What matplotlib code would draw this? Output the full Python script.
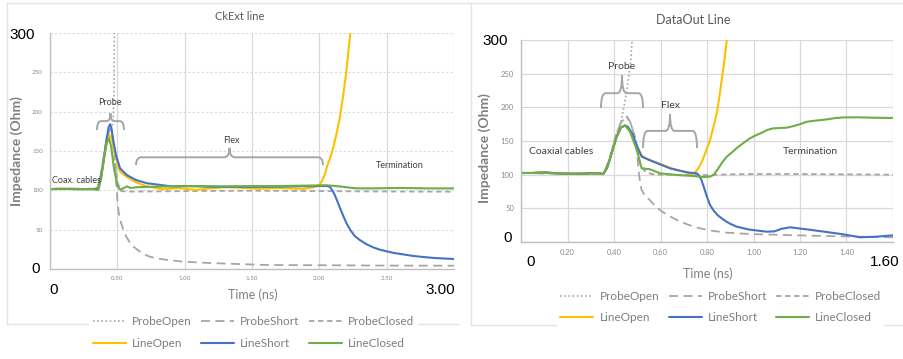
import matplotlib
matplotlib.use("Agg")
import matplotlib.pyplot as plt
from matplotlib.path import Path
from matplotlib.patches import PathPatch
from matplotlib.lines import Line2D

plt.rcParams['font.family'] = ['Lato', 'DejaVu Sans']

# ---------------- CkExt line (left chart) ----------------
ck_probe_open_t = [0, 0.2, 0.35, 0.38, 0.41, 0.44, 0.46, 0.47, 0.475, 0.478, 0.482]
ck_probe_open_z = [101.5, 101.5, 102, 122, 155, 175, 180, 190, 230, 300, 360]

ck_probe_short_t = [0, 0.2, 0.35, 0.38, 0.41, 0.44, 0.46, 0.48, 0.495, 0.503, 0.51, 0.525,
                    0.545, 0.565, 0.59, 0.62, 0.66, 0.70, 0.74, 0.80, 0.88, 0.99, 1.2,
                    1.4, 1.61, 2.0, 2.5, 3.0]
ck_probe_short_z = [101.5, 101.5, 102, 122, 155, 178, 176, 150, 100, 83, 72, 60,
                    49.6, 41.5, 34.5, 28.4, 23, 18.8, 15.7, 13.3, 11.3, 9.3, 7.5,
                    6.3, 5.1, 4.8, 4.3, 4.2]

ck_probe_closed_t = [0, 0.2, 0.35, 0.38, 0.41, 0.44, 0.46, 0.48, 0.50, 0.53, 0.58, 0.7,
                     1.0, 1.5, 2.0, 2.5, 3.0]
ck_probe_closed_z = [101.5, 101.5, 102, 122, 155, 178, 175, 140, 110, 99, 98.5, 98.5,
                     99, 99.5, 99, 98.5, 98.3]

ck_line_open_t = [0, 0.1, 0.2, 0.3, 0.35, 0.37, 0.39, 0.41, 0.43, 0.446, 0.46, 0.48, 0.50,
                  0.52, 0.57, 0.64, 0.72, 0.84, 0.95, 1.09, 1.15, 1.3, 1.45, 1.55, 1.7,
                  1.88, 1.96, 2.0, 2.02, 2.04, 2.06, 2.08, 2.10, 2.125, 2.15, 2.175,
                  2.20, 2.215, 2.23, 2.25]
ck_line_open_z = [101.5, 102, 101.5, 101.5, 102, 110, 128, 150, 165, 170, 165, 148, 134,
                  124, 117, 110, 105, 101.3, 103, 100.4, 102, 104, 103, 102, 103,
                  101.7, 104, 107, 112, 120, 132, 141, 152, 170, 190, 218,
                  250, 275, 300, 340]

ck_line_short_t = [0, 0.1, 0.2, 0.3, 0.36, 0.38, 0.40, 0.42, 0.435, 0.446, 0.455, 0.47,
                   0.49, 0.52, 0.57, 0.64, 0.72, 0.79, 0.9, 1.0, 1.2, 1.4, 1.6, 1.8, 2.0,
                   2.06, 2.08, 2.10, 2.115, 2.13, 2.155, 2.18, 2.205, 2.23, 2.26, 2.30,
                   2.35, 2.40, 2.45, 2.55, 2.70, 2.85, 3.0]
ck_line_short_z = [101.5, 102, 101.5, 101.5, 102, 118, 140, 165, 180, 184, 180, 163,
                   145, 128, 119.5, 113, 109, 107.5, 105, 105.5, 104.5, 104.5, 104.5, 105,
                   105.5, 105.5, 104, 99, 94, 87.7, 77, 66.5, 57, 49.6, 42.5, 36.9,
                   31.5, 27.5, 24.5, 20.5, 16.5, 14, 12.7]

ck_line_closed_t = [0, 0.05, 0.1, 0.15, 0.2, 0.25, 0.3, 0.33, 0.357, 0.38, 0.40, 0.42,
                    0.438, 0.455, 0.475, 0.50, 0.52, 0.55, 0.57, 0.60, 0.65, 0.75, 0.9,
                    1.1, 1.3, 1.5, 1.7, 1.9, 2.05, 2.15, 2.22, 2.28, 2.4, 2.6, 2.8, 3.0]
ck_line_closed_z = [101.5, 102, 101.5, 102, 102, 101.5, 102, 101, 100.5, 115, 140, 160,
                    166, 155, 128, 106, 101, 103, 105, 103, 104, 104.5, 105, 105.5, 105,
                    105.5, 105.5, 106, 106.5, 105, 103.5, 102.5, 102.5, 103, 102.5, 102.5]

# ---------------- DataOut Line (right chart) ----------------
do_probe_open_t = [0, 0.2, 0.354, 0.38, 0.41, 0.43, 0.45, 0.46, 0.47, 0.478, 0.485]
do_probe_open_z = [102.5, 101.5, 101, 120, 155, 178, 215, 238, 262, 300, 340]

do_probe_short_t = [0, 0.2, 0.354, 0.38, 0.41, 0.43, 0.455, 0.47, 0.49, 0.50, 0.507,
                    0.513, 0.519, 0.535, 0.555, 0.575, 0.598, 0.63, 0.67, 0.72, 0.77,
                    0.82, 0.885, 0.95, 1.028, 1.2, 1.315, 1.45, 1.6]
do_probe_short_z = [102.5, 101.5, 101, 122, 160, 178, 186, 178, 156, 130, 102,
                    87, 77, 68, 62, 54, 47.5, 40, 32.7, 25.5, 20.3,
                    16.8, 13.9, 12.5, 11.4, 9.8, 8.9, 7.8, 7]

do_probe_closed_t = [0, 0.2, 0.354, 0.38, 0.41, 0.43, 0.455, 0.47, 0.49, 0.512, 0.53,
                     0.56, 0.6, 0.7, 0.8, 0.9, 1.0, 1.2, 1.4, 1.6]
do_probe_closed_z = [102.5, 101.5, 101, 122, 160, 178, 186, 178, 156, 117, 106,
                     101, 100, 99.5, 99.5, 100.5, 101, 101, 100.5, 100]

do_line_open_t = [0, 0.05, 0.1, 0.15, 0.2, 0.25, 0.3, 0.33, 0.354, 0.37, 0.39, 0.41, 0.43,
                  0.447, 0.46, 0.48, 0.50, 0.52, 0.55, 0.6, 0.65, 0.7, 0.734, 0.75,
                  0.76, 0.77, 0.78, 0.79, 0.80, 0.813, 0.827, 0.842, 0.853, 0.863,
                  0.875, 0.885, 0.895]
do_line_open_z = [102.5, 102.5, 103.5, 102, 101.5, 101.5, 102, 102.5, 101, 110, 132, 155, 170,
                  173, 170, 158, 140, 128, 122, 116, 109, 104.5, 100.5, 104,
                  108, 114, 121, 130, 139, 151.5, 170, 191, 215, 240,
                  270, 300, 330]

do_line_short_t = [0, 0.05, 0.1, 0.15, 0.2, 0.25, 0.3, 0.33, 0.354, 0.37, 0.39, 0.41, 0.43,
                   0.447, 0.46, 0.48, 0.50, 0.519, 0.569, 0.641, 0.70, 0.727, 0.756,
                   0.765, 0.775, 0.785, 0.80, 0.813, 0.827, 0.845, 0.86, 0.88, 0.90,
                   0.928, 0.98, 1.057, 1.09, 1.12, 1.157, 1.229, 1.30, 1.386, 1.458,
                   1.53, 1.6]
do_line_short_z = [102.5, 102.5, 103.5, 102, 101.5, 101.5, 102, 102.5, 101, 110, 132, 155,
                   170, 173, 171, 160, 142, 126.7, 119.3, 109.4, 104.5, 102.9, 102,
                   99, 93, 83, 67, 55, 47.5, 40, 36, 31, 27,
                   22.8, 18.5, 15.3, 15.8, 19.5, 21.8, 18.8, 15.5, 11.4, 7,
                   7.9, 9.9]

do_line_closed_t = [0, 0.05, 0.1, 0.15, 0.2, 0.25, 0.3, 0.33, 0.354, 0.37, 0.39, 0.41, 0.43,
                    0.447, 0.46, 0.47, 0.498, 0.519, 0.555, 0.598, 0.67, 0.741, 0.78,
                    0.80, 0.813, 0.83, 0.85, 0.865, 0.885, 0.91, 0.93, 0.96, 0.985,
                    1.01, 1.04, 1.06, 1.085, 1.115, 1.143, 1.17, 1.20, 1.23, 1.26,
                    1.314, 1.35, 1.386, 1.45, 1.52, 1.6]
do_line_closed_z = [102.5, 102.5, 103.5, 102, 101.5, 101.5, 102, 102.5, 101, 110, 132, 155,
                    170, 173, 168, 163, 136.6, 109.4, 108, 102, 99.5, 98, 96.5,
                    96.8, 97, 100, 110, 118, 126.7, 134, 140, 148, 154,
                    158.5, 163, 166.5, 168.8, 169.3, 169.8, 172, 175, 178.6, 180,
                    182, 184, 185, 185.2, 184.5, 184.2]

legend_labels = ['ProbeOpen', 'ProbeShort', 'ProbeClosed', 'LineOpen', 'LineShort', 'LineClosed']

GREY = '#A6A6A6'
ORANGE = '#FFC000'
BLUE = '#4472C4'
GREEN = '#70AD47'
styles = [
    dict(color=GREY, lw=1.2, ls=(0, (1, 1.5))),
    dict(color=GREY, lw=1.3, ls=(0, (5, 3))),
    dict(color=GREY, lw=1.3, ls=(0, (3, 2))),
    dict(color=ORANGE, lw=1.5, ls='-'),
    dict(color=BLUE, lw=1.5, ls='-'),
    dict(color=GREEN, lw=1.5, ls='-'),
]

W, H = 904, 359
fig = plt.figure(figsize=(W / 100, H / 100), dpi=100)
fig.patch.set_facecolor('white')


def px_box(x0, y0, x1, y1):
    return [x0 / W, 1 - y1 / H, (x1 - x0) / W, (y1 - y0) / H]


def ftext(x, y, s, **kw):
    fig.text(x / W, 1 - y / H, s, **kw)


def fline(xs, ys, **kw):
    fig.add_artist(Line2D([x / W for x in xs], [1 - y / H for y in ys],
                          transform=fig.transFigure, **kw))


def brace(ax, x0, x1, y_end, y_bar, y_nub, dx):
    xm = (x0 + x1) / 2
    verts = [(x0, y_end), (x0, y_bar), (x0 + dx, y_bar),
             (xm - dx, y_bar), (xm, y_bar), (xm, y_nub),
             (xm, y_bar), (xm + dx, y_bar),
             (x1 - dx, y_bar), (x1, y_bar), (x1, y_end)]
    codes = [Path.MOVETO, Path.CURVE3, Path.CURVE3,
             Path.LINETO, Path.CURVE3, Path.CURVE3,
             Path.CURVE3, Path.CURVE3,
             Path.LINETO, Path.CURVE3, Path.CURVE3]
    ax.add_patch(PathPatch(Path(verts, codes), fill=False, edgecolor='#A6A6A6',
                           lw=1.4, clip_on=False))


# panel borders
fline([7, 904], [3, 3], color='#E3E3E3', lw=1)
fline([7, 7], [3, 324], color='#E3E3E3', lw=1)
fline([7, 458], [324, 324], color='#E3E3E3', lw=1)
fline([471, 471], [3, 325], color='#E3E3E3', lw=1)
fline([471, 904], [325, 325], color='#E3E3E3', lw=1)

ax1 = fig.add_axes(px_box(50, 33, 454, 269))
ax2 = fig.add_axes(px_box(521, 40, 893, 242))

left_series = [
    (ck_probe_open_t, ck_probe_open_z), (ck_probe_short_t, ck_probe_short_z),
    (ck_probe_closed_t, ck_probe_closed_z), (ck_line_open_t, ck_line_open_z),
    (ck_line_short_t, ck_line_short_z), (ck_line_closed_t, ck_line_closed_z),
]
right_series = [
    (do_probe_open_t, do_probe_open_z), (do_probe_short_t, do_probe_short_z),
    (do_probe_closed_t, do_probe_closed_z), (do_line_open_t, do_line_open_z),
    (do_line_short_t, do_line_short_z), (do_line_closed_t, do_line_closed_z),
]

handles = {}
for ax, series in [(ax1, left_series), (ax2, right_series)]:
    for (t, z), st, lab in zip(series, styles, legend_labels):
        ln, = ax.plot(t, z, color=st['color'], lw=st['lw'], linestyle=st['ls'],
                      label=lab, solid_capstyle='round', solid_joinstyle='round')
        handles.setdefault(ax, []).append(ln)

# axes styling
ax1.set_xlim(0, 3.0)
ax1.set_ylim(0, 300)
ax1.set_xticks([0, 0.5, 1.0, 1.5, 2.0, 2.5, 3.0])
ax1.set_xticklabels(['', '0.50', '1.00', '1.50', '2.00', '2.50', ''])
ax1.set_yticks([0, 50, 100, 150, 200, 250, 300])
ax1.set_yticklabels(['', '50', '100', '150', '200', '250', ''])
ax1.xaxis.grid(True, color='#D9D9D9', lw=0.9)
ax1.yaxis.grid(True, color='#D9D9D9', lw=0.8, ls=(0, (2, 2)))
ax1.tick_params(length=0, labelsize=4.5, labelcolor='#8C8C8C', pad=5)

ax2.set_xlim(0, 1.6)
ax2.set_ylim(0, 300)
ax2.set_xticks([0, 0.2, 0.4, 0.6, 0.8, 1.0, 1.2, 1.4, 1.6])
ax2.set_xticklabels(['', '0.20', '0.40', '0.60', '0.80', '1.00', '1.20', '1.40', ''])
ax2.set_yticks([0, 50, 100, 150, 200, 250, 300])
ax2.set_yticklabels(['', '50', '100', '150', '200', '250', ''])
ax2.grid(True, color='#D9D9D9', lw=0.9)
ax2.tick_params(length=0, labelsize=5.5, labelcolor='#8C8C8C', pad=5)

for ax in (ax1, ax2):
    ax.set_axisbelow(True)
    for s in ('top', 'right'):
        ax.spines[s].set_visible(False)
    for s in ('left', 'bottom'):
        ax.spines[s].set_color('#BFBFBF')
        ax.spines[s].set_linewidth(1)

# annotations (data coords)
txt = dict(color='#404040', ha='center', va='center')
brace(ax1, 0.349, 0.549, 176.7, 188, 198, 0.03)
ax1.text(0.446, 212, 'Probe', fontsize=6.5, **txt)
brace(ax1, 0.639, 2.027, 132, 142, 154, 0.04)
ax1.text(1.344, 163, 'Flex', fontsize=6.5, **txt)
ax1.text(0.015, 112, 'Coax. cables', fontsize=6.5, color='#404040', ha='left', va='center')
ax1.text(2.6, 132, 'Termination', fontsize=6.5, **txt)

brace(ax2, 0.344, 0.525, 199, 221, 248, 0.02)
ax2.text(0.434, 261, 'Probe', fontsize=7.5, **txt)
brace(ax2, 0.525, 0.757, 139.6, 165, 190, 0.02)
ax2.text(0.641, 202, 'Flex', fontsize=7.5, **txt)
ax2.text(0.034, 135, 'Coaxial cables', fontsize=7.5, color='#404040', ha='left', va='center')
ax2.text(1.243, 135, 'Termination', fontsize=7.5, **txt)

# titles and axis labels
ftext(240, 17, 'CkExt line', fontsize=8, color='#595959', ha='center', va='center')
ftext(693, 20, 'DataOut Line', fontsize=9, color='#595959', ha='center', va='center')
ftext(253, 295, 'Time (ns)', fontsize=9, color='#808080', ha='center', va='center')
ftext(708, 274, 'Time (ns)', fontsize=9, color='#808080', ha='center', va='center')
ftext(17, 151, 'Impedance (Ohm)', fontsize=10, color='#808080', ha='center', va='center',
      rotation=90, fontweight='bold')
ftext(485, 148, 'Impedance (Ohm)', fontsize=10, color='#808080', ha='center', va='center',
      rotation=90, fontweight='bold')

# large overlay labels
big = dict(fontsize=11, color='black', family=['Liberation Sans', 'DejaVu Sans'], va='center')
ftext(35, 35, '300', ha='right', **big)
ftext(35.5, 269, '0', ha='center', **big)
ftext(53.5, 290, '0', ha='center', **big)
ftext(440.5, 290, '3.00', ha='center', **big)
ftext(508, 41, '300', ha='right', **big)
ftext(507.5, 238, '0', ha='center', **big)
ftext(531, 262, '0', ha='center', **big)
ftext(885, 262, '1.60', ha='center', **big)

# legends: order so that ncol=3 fills rows Probe*/Line*
order = [0, 3, 1, 4, 2, 5]
for ax, cx, cy, sp in [(ax1, 253.5, 332.5, 0.95), (ax2, 721, 307, 0.85)]:
    hs = [handles[ax][i] for i in order]
    ls = [legend_labels[i] for i in order]
    leg = fig.legend(hs, ls, ncol=3, loc='center', bbox_to_anchor=(cx / W, 1 - cy / H),
                     fontsize=8.5, frameon=True, facecolor='white', edgecolor='none',
                     framealpha=1, handlelength=2.8, handletextpad=0.5,
                     columnspacing=0.8, labelspacing=sp, borderpad=0.3)
    for t in leg.get_texts():
        t.set_color('#7F7F7F')

fig.savefig('out.png', dpi=100)
